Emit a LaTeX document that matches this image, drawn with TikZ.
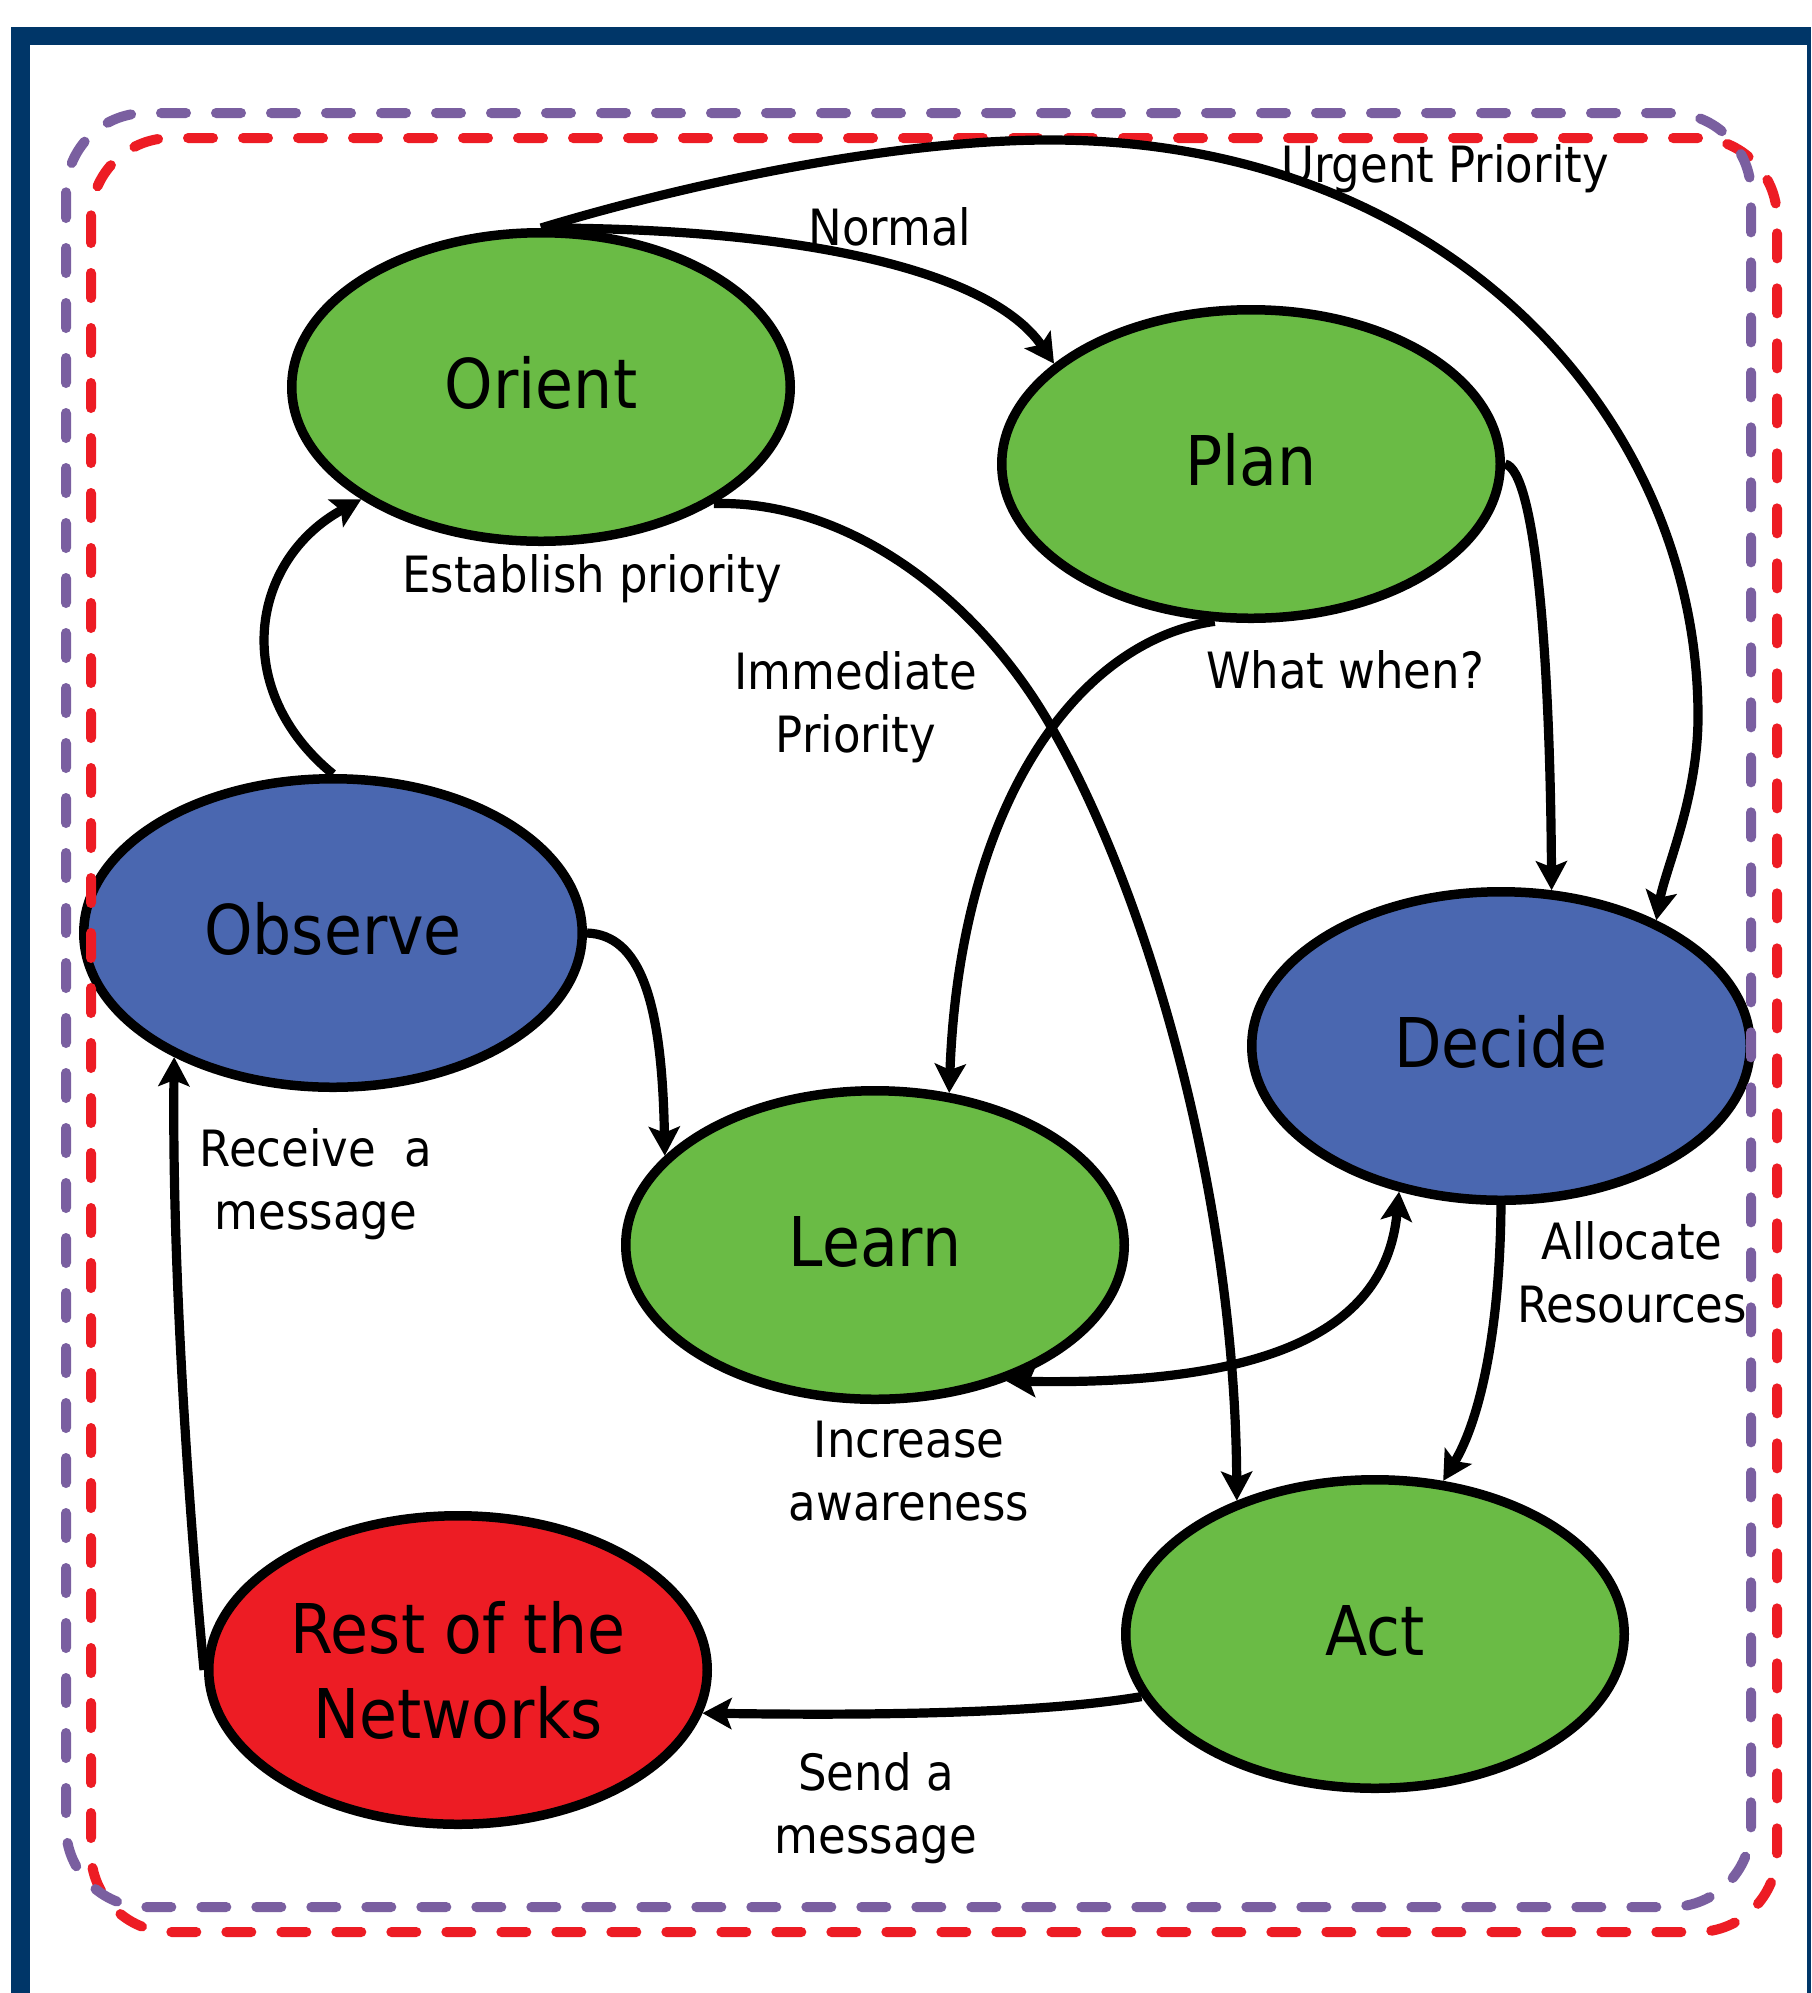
\documentclass[tikz,border=0pt]{standalone}
\usepackage{fontspec}
\setmainfont{DejaVu Sans}[FakeStretch=0.9]
\usetikzlibrary{arrows.meta,shapes.geometric}
\definecolor{framec}{RGB}{0,54,104}
\definecolor{purp}{RGB}{122,95,160}
\definecolor{redd}{RGB}{237,28,36}
\definecolor{grn}{RGB}{106,187,69}
\definecolor{blu}{RGB}{74,103,176}
\begin{document}
\begin{tikzpicture}[x=0.5pt,y=-0.5pt,
  state/.style={ellipse, draw=black, line width=4.75pt, minimum width=249.25pt, minimum height=154.25pt,
    inner sep=0pt, font=\fontsize{34.3}{42.5}\selectfont, align=center},
  single/.style={text height=21pt, text depth=0pt},
  conn/.style={line width=4.6pt, -{Stealth[length=14.5pt,width=15.5pt,inset=3pt]}},
  conntwo/.style={line width=4.6pt, {Stealth[length=14.5pt,width=15.5pt,inset=3pt]}-{Stealth[length=14.5pt,width=15.5pt,inset=3pt]}},
  dashframe/.style={line width=5pt, line cap=round, dash pattern=on 12.5pt off 15pt, rounded corners=40pt},
  lab/.style={font=\fontsize{25}{31.5}\selectfont, align=center, inner sep=0pt}]
\useasboundingbox (0,0) rectangle (1811,1993);
% outer frame
\fill[framec] (11,27) rectangle (1811,1993);
\fill[white] (30,45) rectangle (1807,1993);

% states
\node[state, single, fill=grn] (orient) at (541,387) {Orient};
\node[state, single, fill=grn] (plan) at (1251,464) {Plan};
\node[state, single, fill=blu] (observe) at (333,933) {Observe};
\node[state, single, fill=blu] (decide) at (1501,1046) {Decide};
\node[state, single, fill=grn] (learn) at (875,1245) {Learn};
\node[state, single, fill=grn] (act) at (1375,1634) {Act};
\node[state, fill=redd] (rest) at (458,1670) {Rest of the\\Networks};

% dashed boundaries
\draw[redd, dashframe] (91,138) rectangle (1777,1932);
\draw[purp, dashframe] (66,113) rectangle (1751,1907);

% connectors
\draw[conn] (orient.north) .. controls (800,228) and (990,270) .. (plan.153);
\draw[conn] (orient.north) .. controls (700,180) and (900,140) .. (1050,140)
   .. controls (1450,140) and (1700,420) .. (1698,720)
   .. controls (1697,800) and (1665,870) .. (decide.39);
\draw[conn] (orient.326) .. controls (850,500) and (980,600) .. (1053,730)
   .. controls (1150,900) and (1235,1200) .. (act.136);
\draw[conn] (plan.257) .. controls (1080,640) and (960,800) .. (learn.64);
\draw[conn] (plan.east) .. controls (1535,470) and (1550,650) .. (decide.72);
\draw[conn] (observe.north) .. controls (230,690) and (250,560) .. (orient.212);
\draw[conn] (observe.east) .. controls (640,935) and (662,1000) .. (learn.157);
\draw[conn] (rest.west) .. controls (186,1480) and (172,1250) .. (observe.218);
\draw[conn] (act.195) .. controls (1050,1712) and (900,1716) .. (rest.350);
\draw[conn] (decide.south) .. controls (1500,1330) and (1480,1420) .. (act.66);
\draw[conntwo] (learn.314) .. controls (1250,1385) and (1385,1340) .. (decide.235);

% labels
\node[lab, anchor=base] (lnormal) at (890,245) {Normal};
\node[lab, anchor=base] (lurgent) at (1445,182) {Urgent Priority};
\node[lab, anchor=base] (lestab) at (592,592) {Establish priority};
\node[lab] (limm) at (856,707) {Immediate\\Priority};
\node[lab, anchor=base] (lwhat) at (1345,688) {What when?};
\node[lab] (lrec) at (316,1184.5) {Receive\ \ a\\message};
\node[lab] (linc) at (909,1470.75) {Increase\\awareness};
\node[lab] (lalloc) at (1632,1272.5) {Allocate\\Resources};
\node[lab] (lsend) at (876,1808.5) {Send a\\message};
\end{tikzpicture}
\end{document}
